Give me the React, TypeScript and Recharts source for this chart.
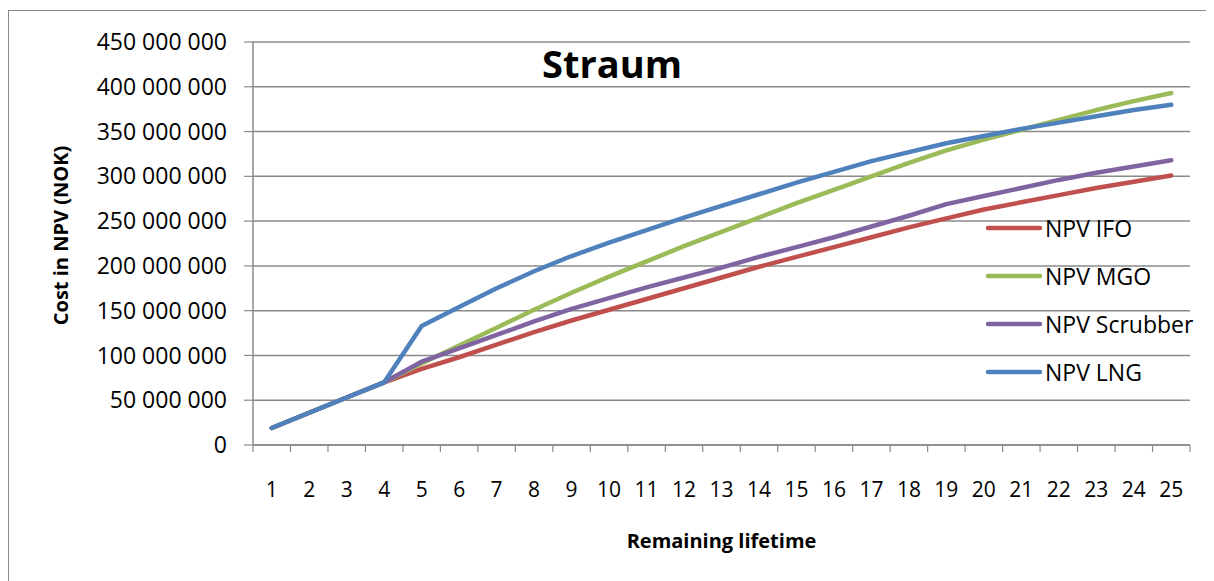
import React from "react";
import { LineChart, Line, XAxis, YAxis, CartesianGrid, Label } from "recharts";

// Remaining lifetime (years)
const years = [1, 2, 3, 4, 5, 6, 7, 8, 9, 10, 11, 12, 13, 14, 15, 16, 17, 18, 19, 20, 21, 22, 23, 24, 25];

// Net present value of cost, in million NOK
const npvIfo = [19, 36, 53, 70, 85, 98, 112, 126, 139, 151, 163, 175, 187, 199, 210, 221, 232, 243, 253, 263, 271, 279, 287, 294, 301];
const npvMgo = [19, 36, 53, 70, 91, 111, 131, 151, 170, 188, 205, 222, 238, 254, 270, 285, 300, 315, 329, 341, 352, 363, 374, 384, 393];
const npvScrubber = [19, 36, 53, 70, 93, 108, 123, 138, 152, 164, 176, 187, 198, 210, 221, 232, 244, 256, 269, 278, 287, 296, 304, 311, 318];
const npvLng = [19, 36, 53, 70, 133, 154, 175, 194, 211, 226, 240, 254, 267, 280, 293, 305, 317, 327, 337, 345, 353, 360, 367, 374, 380];

const yTicks = [0, 50000000, 100000000, 150000000, 200000000, 250000000, 300000000, 350000000, 400000000, 450000000];

const MILLION = 1000000;

const series = [
  { key: "ifo", name: "NPV IFO", color: "#C0504D", values: npvIfo },
  { key: "mgo", name: "NPV MGO", color: "#9BBB59", values: npvMgo },
  { key: "scrubber", name: "NPV Scrubber", color: "#8064A2", values: npvScrubber },
  { key: "lng", name: "NPV LNG", color: "#4F81BD", values: npvLng },
];

const rows = years.map((year, i) => {
  const row: Record<string, number> = { year };
  series.forEach((s) => {
    row[s.key] = s.values[i] * MILLION;
  });
  return row;
});

// tick marks sit on the boundaries between years
const boundaryTicks = [...years.map((y) => y - 0.5), years[years.length - 1] + 0.5];
const xDomain: [number, number] = [boundaryTicks[0], boundaryTicks[boundaryTicks.length - 1]];

const FONT = "'Open Sans', 'DejaVu Sans', sans-serif";
const GRID = "#8a8a8a";

const formatNok = (v: number) => String(v).replace(/\B(?=(\d{3})+(?!\d))/g, " ");

const NoLabel = () => <g />;

const LegendBox = () => (
  <div
    style={{
      position: "absolute",
      left: 976,
      top: 193,
      fontFamily: FONT,
      fontSize: 23,
      color: "#000",
      zIndex: 2,
    }}
  >
    {series.map((s) => (
      <div key={s.key} style={{ display: "flex", alignItems: "center", height: 48 }}>
        <svg width={58} height={10} style={{ display: "block" }}>
          <line x1={3} y1={5} x2={55} y2={5} stroke={s.color} strokeWidth={4.5} strokeLinecap="round" />
        </svg>
        <span style={{ marginLeft: 2, whiteSpace: "nowrap", lineHeight: 1 }}>{s.name}</span>
      </div>
    ))}
  </div>
);

export default function App() {
  return (
    <div
      style={{
        position: "relative",
        width: 1199,
        height: 600,
        marginTop: 2,
        border: "1px solid #8a8a8a",
        boxSizing: "border-box",
        background: "#fff",
      }}
    >
      <div
        style={{
          position: "absolute",
          left: 503,
          top: 28,
          width: 200,
          textAlign: "center",
          fontFamily: FONT,
          fontWeight: 700,
          fontSize: 38,
          lineHeight: "48px",
          color: "#000",
          zIndex: 2,
        }}
      >
        Straum
      </div>
      <LegendBox />
      <LineChart width={1197} height={598} data={rows} margin={{ top: 31, right: 16, left: 0, bottom: 56 }}>
        <CartesianGrid horizontal vertical={false} stroke={GRID} strokeWidth={1.5} />
        <XAxis
          xAxisId="bounds"
          dataKey="year"
          type="number"
          domain={xDomain}
          ticks={boundaryTicks}
          interval={0}
          tick={NoLabel}
          tickSize={7}
          height={8}
          axisLine={{ stroke: GRID, strokeWidth: 1.5 }}
          tickLine={{ stroke: GRID, strokeWidth: 1.2 }}
        />
        <XAxis
          xAxisId="years"
          dataKey="year"
          type="number"
          domain={xDomain}
          ticks={years}
          interval={0}
          axisLine={false}
          tickLine={false}
          tickSize={0}
          tickMargin={29}
          height={100}
          tick={{ fill: "#000", fontSize: 21, fontFamily: FONT }}
        >
          <Label
            content={(props: any) => {
              const vb = props.viewBox || {};
              return (
                <text
                  x={vb.x + vb.width / 2}
                  y={vb.y + 87}
                  textAnchor="middle"
                  dominantBaseline="central"
                  fontFamily={FONT}
                  fontWeight={700}
                  fontSize={20}
                  fill="#000"
                >
                  Remaining lifetime
                </text>
              );
            }}
          />
        </XAxis>
        <YAxis
          domain={[0, 450000000]}
          ticks={yTicks}
          interval={0}
          width={244}
          tickFormatter={formatNok}
          tickSize={9}
          tickMargin={17}
          axisLine={{ stroke: GRID, strokeWidth: 1.5 }}
          tickLine={{ stroke: GRID, strokeWidth: 1.2 }}
          tick={{ fill: "#000", fontSize: 23, fontFamily: FONT }}
        >
          <Label
            content={(props: any) => {
              const vb = props.viewBox || {};
              const cx = vb.x + 51;
              const cy = vb.y + vb.height / 2 - 8;
              return (
                <text
                  x={cx}
                  y={cy}
                  transform={`rotate(-90 ${cx} ${cy})`}
                  textAnchor="middle"
                  dominantBaseline="central"
                  fontFamily={FONT}
                  fontWeight={700}
                  fontSize={20}
                  fill="#000"
                >
                  Cost in NPV (NOK)
                </text>
              );
            }}
          />
        </YAxis>
        {series.map((s) => (
          <Line
            key={s.key}
            xAxisId="years"
            type="linear"
            dataKey={s.key}
            name={s.name}
            stroke={s.color}
            strokeWidth={4.5}
            strokeLinecap="round"
            strokeLinejoin="round"
            dot={false}
            activeDot={false}
            isAnimationActive={false}
          />
        ))}
      </LineChart>
    </div>
  );
}
